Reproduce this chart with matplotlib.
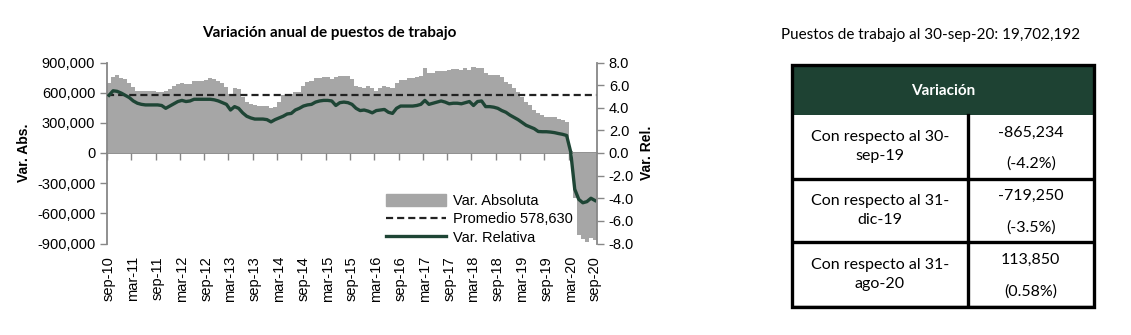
import numpy as np
import matplotlib.pyplot as plt
from matplotlib.lines import Line2D
from matplotlib.patches import Patch, Rectangle
from matplotlib.ticker import FuncFormatter

plt.rcParams['font.family'] = ['Liberation Sans', 'DejaVu Sans']

# variación anual absoluta (miles de puestos), sep-10 a sep-20
var_abs_miles = [
    700, 760, 775, 750, 740, 700, 660, 620, 615, 615, 615, 620,
    610, 605, 620, 640, 665, 685, 700, 690, 690, 715, 720, 720,
    730, 745, 740, 715, 700, 660, 585, 645, 640, 560, 510, 485,
    480, 470, 470, 470, 445, 455, 510, 580, 585, 590, 605, 610,
    670, 705, 715, 745, 750, 755, 760, 740, 760, 765, 770, 770,
    740, 665, 660, 645, 670, 645, 620, 645, 670, 660, 645, 695,
    725, 730, 745, 750, 760, 765, 850, 795, 800, 815, 820, 820,
    825, 835, 840, 825, 850, 830, 860, 845, 845, 795, 780, 775,
    775, 760, 710, 685, 645, 610, 560, 510, 480, 430, 400, 375,
    360, 360, 355, 340, 325, 310, 20, -450, -820, -860, -890, -850,
    -865,
]
# variación anual relativa (%)
var_rel = [
    5.1, 5.5, 5.45, 5.3, 5.1, 4.9, 4.6, 4.4, 4.3, 4.25, 4.25, 4.25,
    4.25, 4.2, 3.95, 4.15, 4.35, 4.55, 4.65, 4.55, 4.6, 4.75, 4.75, 4.75,
    4.75, 4.75, 4.7, 4.6, 4.45, 4.3, 3.8, 4.1, 3.95, 3.55, 3.25, 3.1,
    3.0, 3.0, 3.0, 2.95, 2.75, 2.95, 3.1, 3.25, 3.45, 3.5, 3.8, 3.95,
    4.15, 4.25, 4.3, 4.5, 4.6, 4.65, 4.65, 4.6, 4.2, 4.45, 4.5, 4.45,
    4.3, 3.95, 3.75, 3.8, 3.7, 3.55, 3.75, 3.8, 3.85, 3.6, 3.5, 3.95,
    4.15, 4.15, 4.15, 4.15, 4.2, 4.3, 4.65, 4.3, 4.4, 4.5, 4.6, 4.5,
    4.35, 4.4, 4.4, 4.35, 4.45, 4.55, 4.2, 4.55, 4.6, 4.1, 4.1, 4.05,
    3.95, 3.75, 3.6, 3.35, 3.15, 2.95, 2.7, 2.45, 2.3, 2.15, 1.9, 1.88,
    1.88, 1.85, 1.8, 1.72, 1.65, 1.55, 0.1, -3.2, -4.1, -4.4, -4.3, -4.0,
    -4.2,
]
promedio = 578630
etiquetas = ['sep-10', 'mar-11', 'sep-11', 'mar-12', 'sep-12', 'mar-13', 'sep-13',
             'mar-14', 'sep-14', 'mar-15', 'sep-15', 'mar-16', 'sep-16', 'mar-17',
             'sep-17', 'mar-18', 'sep-18', 'mar-19', 'sep-19', 'mar-20', 'sep-20']

# tabla de variaciones
filas = ['Con respecto al 30-\nsep-19', 'Con respecto al 31-\ndic-19', 'Con respecto al 31-\nago-20']
variacion = ['-865,234', '-719,250', '113,850']
variacion_pct = ['(-4.2%)', '(-3.5%)', '(0.58%)']
total = 'Puestos de trabajo al 30-sep-20: 19,702,192'

gris = '#a6a6a6'
verde = '#1e4535'
eje = '#878787'
W, H = 1131, 335

var_abs = np.array(var_abs_miles) * 1000
meses = np.arange(len(var_abs))

fig = plt.figure(figsize=(W / 100, H / 100), dpi=100)
ax = fig.add_axes([107 / W, 1 - 243.5 / H, 490 / W, 181 / H])

ax.bar(meses, var_abs, width=1.0, color=gris, linewidth=0)
ax.axhline(promedio, color='#222222', lw=1.6, ls=(0, (3.2, 1.8)))
ax.set_xlim(-0.5, len(meses) - 0.5)
ax.set_ylim(-900000, 900000)
ax.set_yticks(np.arange(-900000, 900001, 300000))
ax.yaxis.set_major_formatter(FuncFormatter(lambda v, p: f'{int(v):,}'))
ax.set_ylabel('Var. Abs.', fontsize=10, fontweight='bold', labelpad=4)

# etiquetas de meses abajo, marcas del eje en la linea del cero
ax.set_xticks(meses[::6])
ax.set_xticklabels(etiquetas, rotation=90, fontsize=10.5)
ax.tick_params(axis='x', length=0, pad=9)
ax.tick_params(axis='y', colors=eje, labelcolor='black', labelsize=10.5, length=5, width=1)
for s in ['top', 'right', 'bottom']:
    ax.spines[s].set_visible(False)
ax.spines['left'].set_color(eje)
ax.spines['left'].set_linewidth(1.3)

sec = ax.secondary_xaxis(0.5)
sec.set_xticks(meses[::6] - 0.5)
sec.set_xticklabels([])
sec.tick_params(axis='x', direction='in', length=5, width=1, colors=eje)
sec.spines['top'].set_color(eje)
sec.spines['top'].set_linewidth(1.3)
sec.spines['bottom'].set_color(eje)

ax2 = ax.twinx()
ax2.plot(meses, var_rel, color=verde, lw=2.4)
ax2.set_ylim(-8, 8)
ax2.set_yticks(np.arange(-8, 8.1, 2))
ax2.yaxis.set_major_formatter(FuncFormatter(lambda v, p: f'{v:.1f}'))
ax2.set_ylabel('Var. Rel.', fontsize=10, fontweight='bold', labelpad=4)
ax2.tick_params(axis='y', colors=eje, labelcolor='black', labelsize=10.5, length=5, width=1)
for s in ['top', 'left', 'bottom']:
    ax2.spines[s].set_visible(False)
ax2.spines['right'].set_color(eje)
ax2.spines['right'].set_linewidth(1.3)

handles = [Patch(color=gris), Line2D([], [], color='#222222', lw=1.6, ls=(0, (3.2, 1.8))),
           Line2D([], [], color=verde, lw=2.4)]
ax2.legend(handles, ['Var. Absoluta', f'Promedio {promedio:,}', 'Var. Relativa'],
           loc='lower left', bbox_to_anchor=(376 / W, 1 - 255 / H), bbox_transform=fig.transFigure,
           frameon=False, fontsize=10.5, handlelength=4.1, handleheight=0.9,
           handletextpad=0.5, labelspacing=0.3, borderpad=0.2)

fig.text(329 / W, 1 - 32.5 / H, 'Variación anual de puestos de trabajo', ha='center', va='center',
         fontsize=11, fontweight='bold', family='Lato')
fig.text(931 / W, 1 - 35 / H, total, ha='center', va='center', fontsize=11, family='Lato')

# tabla en coordenadas de pixel
tx0, tx1, ty0, ty1 = 792, 1094, 65, 306.5
axt = fig.add_axes([tx0 / W, 1 - ty1 / H, (tx1 - tx0) / W, (ty1 - ty0) / H])
axt.set_xlim(0, tx1 - tx0)
axt.set_ylim(ty1 - ty0, 0)
axt.axis('off')
cw = tx1 - tx0
hdr = 115 - ty0
cuts = [hdr, 178.5 - ty0, 241.7 - ty0, ty1 - ty0]
col = 967.5 - tx0
axt.add_patch(Rectangle((0, 0), cw, hdr, facecolor='#1e4233', edgecolor='none'))
axt.text(cw / 2, hdr / 2 + 1, 'Variación', ha='center', va='center', color='white',
         fontsize=11, fontweight='bold', family='Lato')
for i in range(len(filas)):
    top, bot = cuts[i], cuts[i + 1]
    mid = (top + bot) / 2
    axt.text(col / 2, mid, filas[i], ha='center', va='center', fontsize=11.5,
             family='Lato', linespacing=1.45)
    axt.text((col + cw) / 2, mid - 14, variacion[i], ha='center', va='center', fontsize=11.5, family='Lato')
    axt.text((col + cw) / 2, mid + 17, variacion_pct[i], ha='center', va='center', fontsize=11.5, family='Lato')
    axt.plot([0, cw], [bot, bot], color='black', lw=2.4, solid_capstyle='projecting')
    axt.plot([col, col], [top, bot], color='black', lw=2.4)
axt.add_patch(Rectangle((0, 0), cw, ty1 - ty0, facecolor='none', edgecolor='black', lw=2.4, clip_on=False))

fig.savefig('out.png', dpi=100)
